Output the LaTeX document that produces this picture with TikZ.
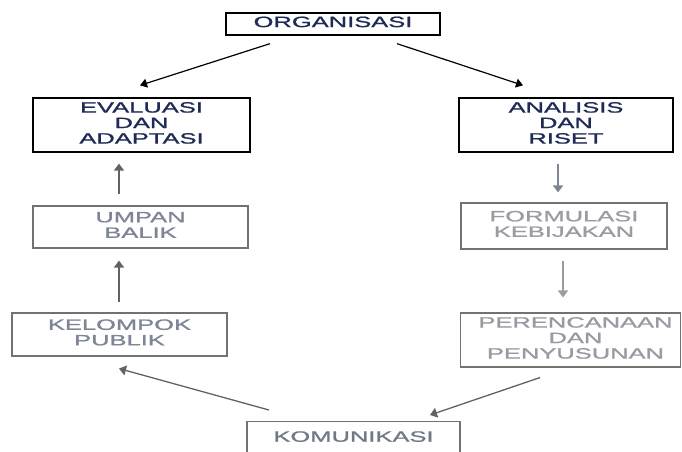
\documentclass[tikz,border=0pt]{standalone}
\usepackage{graphicx}
\usepackage{fontspec}
\setmainfont{Liberation Sans}
\newfontfamily\labelfont[FakeBold=0.9]{Liberation Sans}
\usetikzlibrary{arrows.meta,calc}

% wide, stacked capital labels
\newcommand\widelabel[1]{\scalebox{1.7}[1]{\setlength\tabcolsep{0pt}\begin{tabular}{c}#1\end{tabular}}}

\definecolor{inknavy}{HTML}{1F2A55}
\definecolor{inkgray}{HTML}{7E8594}
\definecolor{inklight}{HTML}{9A9CA3}
\definecolor{framegray}{HTML}{6F7470}
\definecolor{arrowgray}{HTML}{5E6461}

\tikzset{
  mainbox/.style={draw=black, line width=1.3pt, inner sep=0pt, text=inknavy,
    font=\labelfont\fontsize{15}{15.5}\selectfont},
  subbox/.style={draw=framegray, line width=1.1pt, inner sep=0pt, text=inkgray,
    font=\labelfont\fontsize{15}{15.5}\selectfont},
  darkarrow/.style={draw=black, line width=1.2pt, -{Triangle[length=7pt,width=9pt]}},
  grayarrow/.style={draw=arrowgray, line width=1.6pt, -{Triangle[length=7pt,width=10pt]}},
  lightarrow/.style={draw=inklight, line width=1.5pt, -{Triangle[length=7pt,width=10pt]}},
}

\begin{document}
\begin{tikzpicture}[x=1pt, y=-1pt]
\useasboundingbox (0,0) rectangle (682,451);
\clip (0,0) rectangle (682,451);

% boxes
\node[mainbox, minimum width=214pt, minimum height=22pt] (org) at (333,24)
  {\widelabel{ORGANISASI}\hspace{16pt}};
\node[mainbox, minimum width=217pt, minimum height=54pt] (eval) at (141.5,125)
  {\widelabel{EVALUASI\\DAN\\ADAPTASI}};
\node[mainbox, minimum width=214pt, minimum height=54pt] (anal) at (566,125)
  {\widelabel{ANALISIS\\DAN\\RISET}};
\node[subbox, minimum width=215pt, minimum height=42pt] (umpan) at (140.5,227)
  {\widelabel{UMPAN\\BALIK}};
\node[subbox, minimum width=206pt, minimum height=46pt, text=inklight] (formul) at (564,226)
  {\widelabel{FORMULASI\\KEBIJAKAN}};
\node[subbox, minimum width=215pt, minimum height=43pt] (kel) at (119.5,334.5)
  {\widelabel{KELOMPOK\\PUBLIK}};
\node[subbox, minimum width=220pt, minimum height=54pt, text=inklight!90!inkgray] (peren) at (570.5,340)
  {\hspace{10pt}\widelabel{PERENCANAAN\\DAN\\PENYUSUNAN}};
\node[subbox, minimum width=213pt, minimum height=40pt, anchor=north, text=inkgray!90!black] (komun) at (353.5,421)
  {\raisebox{10pt}{\widelabel{KOMUNIKASI}}};

% connectors
\draw[darkarrow] ($(org.south)+(-63,8)$) -- ($(eval.north)+(-1.5,-12)$);
\draw[darkarrow] ($(org.south)+(64,8)$) -- ($(anal.north)+(-43,-12)$);
\draw[grayarrow, draw=inkgray] ($(anal.south)+(-8,11)$) -- ($(formul.north)+(-6,-10)$);
\draw[lightarrow] ($(formul.south)+(-1,11)$) -- ($(peren.north)+(-7.5,-15)$);
\draw[grayarrow] ($(umpan.north)+(-21.5,-11)$) -- ($(eval.south)+(-22.5,11)$);
\draw[grayarrow] ($(kel.north)+(-0.5,-10)$) -- ($(umpan.south)+(-21.5,12)$);
\draw[grayarrow, line width=1.3pt] ($(komun.north)+(-84.5,-11)$) -- ($(kel.south)+(-0.5,12)$);
\draw[grayarrow, line width=1.3pt] ($(peren.south)+(-30.5,10)$) -- ($(komun.north)+(76.5,-6)$);
\end{tikzpicture}
\end{document}
